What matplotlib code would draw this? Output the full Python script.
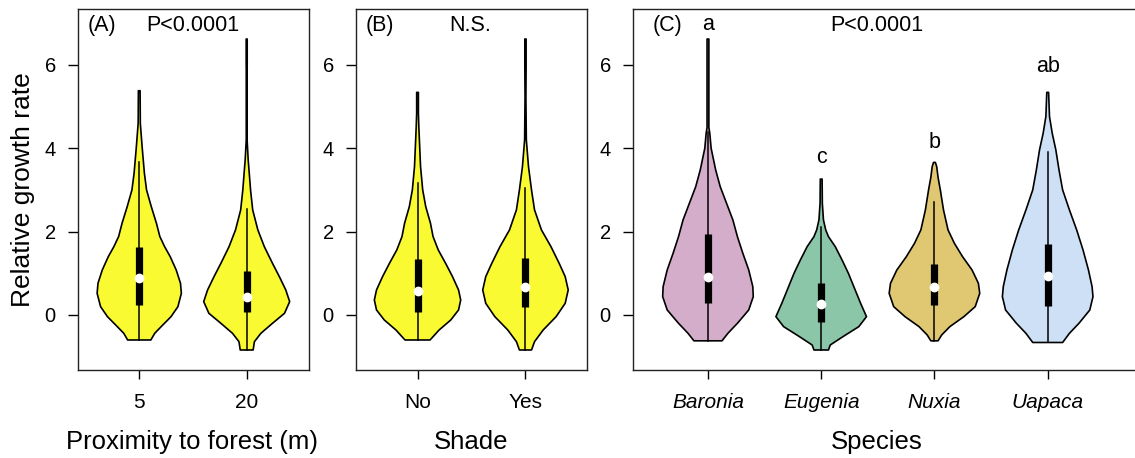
import numpy as np
import matplotlib
matplotlib.use("Agg")
import matplotlib.pyplot as plt

plt.rcParams["font.family"] = ["Liberation Sans", "DejaVu Sans"]

# violin outlines: y level and relative density (max = 1)
a5_y = [-0.6, -0.44, -0.28, -0.04, 0.2, 0.52, 0.76, 1.08, 1.4, 1.64, 1.88, 2.2, 2.6, 3.0, 3.4, 4.0, 4.4, 4.6, 5.38]
a5_d = [0.27, 0.36, 0.51, 0.74, 0.90, 0.98, 0.96, 0.86, 0.72, 0.59, 0.48, 0.40, 0.28, 0.17, 0.12, 0.07, 0.04, 0.025, 0.02]
a20_y = [-0.84, -0.64, -0.44, -0.2, 0.04, 0.32, 0.6, 0.92, 1.24, 1.64, 2.04, 2.52, 3.0, 3.4, 3.72, 4.2, 5.9, 6.0, 6.62]
a20_d = [0.15, 0.18, 0.33, 0.60, 0.88, 1.0, 0.91, 0.76, 0.60, 0.41, 0.26, 0.14, 0.09, 0.06, 0.035, 0.01, 0.01, 0.012, 0.012]

bno_y = [-0.6, -0.36, -0.12, 0.12, 0.36, 0.6, 0.92, 1.24, 1.56, 1.88, 2.2, 2.6, 3.0, 3.56, 4.52, 4.84, 5.34]
bno_d = [0.29, 0.50, 0.77, 0.95, 1.0, 0.95, 0.81, 0.65, 0.48, 0.36, 0.30, 0.19, 0.12, 0.07, 0.03, 0.02, 0.02]
byes_y = [-0.84, -0.64, -0.36, -0.04, 0.28, 0.6, 0.92, 1.24, 1.64, 2.04, 2.52, 3.0, 3.56, 4.2, 5.2, 6.0, 6.62]
byes_d = [0.14, 0.21, 0.41, 0.71, 0.92, 0.99, 0.92, 0.78, 0.59, 0.37, 0.21, 0.14, 0.07, 0.02, 0.01, 0.015, 0.015]

bar_y = [-0.62, -0.44, -0.2, 0.12, 0.44, 0.68, 1.08, 1.48, 1.88, 2.28, 2.68, 3.08, 3.48, 4.0, 4.36, 4.5, 6.62]
bar_d = [0.31, 0.44, 0.65, 0.90, 1.0, 0.99, 0.90, 0.77, 0.65, 0.55, 0.41, 0.27, 0.17, 0.07, 0.04, 0.02, 0.02]
eug_y = [-0.84, -0.72, -0.52, -0.28, -0.04, 0.28, 0.68, 1.0, 1.32, 1.64, 1.88, 2.04, 2.28, 2.68, 3.26]
eug_d = [0.16, 0.20, 0.48, 0.83, 1.0, 0.87, 0.72, 0.60, 0.46, 0.31, 0.16, 0.10, 0.05, 0.025, 0.02]
nux_y = [-0.62, -0.48, -0.28, -0.04, 0.2, 0.52, 0.76, 1.08, 1.4, 1.72, 2.04, 2.52, 3.0, 3.3, 3.56, 3.66]
nux_d = [0.08, 0.16, 0.34, 0.65, 0.90, 1.0, 0.97, 0.83, 0.62, 0.44, 0.30, 0.20, 0.13, 0.08, 0.05, 0.02]
uap_y = [-0.66, -0.44, -0.2, 0.12, 0.44, 0.68, 1.08, 1.56, 2.04, 2.52, 3.0, 3.48, 3.96, 4.36, 4.76, 5.34]
uap_d = [0.33, 0.48, 0.69, 0.93, 1.0, 0.98, 0.90, 0.78, 0.64, 0.48, 0.33, 0.25, 0.18, 0.10, 0.04, 0.02]

# box stats
a_q1, a_med, a_q3, a_wh = [0.24, 0.06], [0.88, 0.44], [1.62, 1.06], [3.66, 2.55]
b_q1, b_med, b_q3, b_wh = [0.08, 0.2], [0.58, 0.66], [1.34, 1.36], [3.16, 3.04]
c_q1 = [0.28, -0.16, 0.24, 0.22]
c_med = [0.92, 0.26, 0.68, 0.94]
c_q3 = [1.94, 0.76, 1.22, 1.7]
c_wh = [4.4, 2.1, 2.7, 3.92]

a_labels = ["5", "20"]
b_labels = ["No", "Yes"]
c_labels = ["Baronia", "Eugenia", "Nuxia", "Uapaca"]
c_letters = ["a", "c", "b", "ab"]
c_letter_y = [6.84, 3.64, 4.0, 5.82]

yellow = "#FAFA32"
c_colors = ["#D3ADC9", "#8CC6A9", "#E0C873", "#CDE0F5"]


def violin(ax, x, ys, ds, q1, med, q3, wh, color):
    ys = np.asarray(ys)
    w = 0.4 * np.asarray(ds)
    px = np.concatenate([x - w, (x + w)[::-1]])
    py = np.concatenate([ys, ys[::-1]])
    ax.fill(px, py, facecolor=color, edgecolor="black", lw=1.2, joinstyle="round", zorder=2)
    ax.plot([x, x], [ys[0], wh], color="black", lw=1.1, zorder=3)
    ax.plot([x, x], [q1, q3], color="black", lw=5.2, solid_capstyle="butt", zorder=4)
    ax.plot(x, med, "o", color="white", ms=6, mec="white", zorder=5)


def style(ax, labels, xlim, italic=False):
    ax.set_xlim(*xlim)
    ax.set_ylim(-1.32, 7.34)
    ax.set_yticks([0, 2, 4, 6])
    ax.set_xticks(range(1, len(labels) + 1))
    ax.set_xticklabels(labels, fontsize=15, style="italic" if italic else "normal")
    ax.tick_params(axis="y", labelsize=14.5, length=7.5, width=1, pad=8.5)
    ax.tick_params(axis="x", length=6.5, width=1, pad=10)
    for s in ax.spines.values():
        s.set_linewidth(1.0)
        s.set_color("#222222")


fig = plt.figure(figsize=(11.35, 4.58), dpi=100)
axA = fig.add_axes([78 / 1135, 88 / 458, 231 / 1135, 361 / 458])
axB = fig.add_axes([356 / 1135, 88 / 458, 231 / 1135, 361 / 458])
axC = fig.add_axes([633 / 1135, 88 / 458, 520 / 1135, 361 / 458])

violin(axA, 1, a5_y, a5_d, a_q1[0], a_med[0], a_q3[0], a_wh[0], yellow)
violin(axA, 2, a20_y, a20_d, a_q1[1], a_med[1], a_q3[1], a_wh[1], yellow)
violin(axB, 1, bno_y, bno_d, b_q1[0], b_med[0], b_q3[0], b_wh[0], yellow)
violin(axB, 2, byes_y, byes_d, b_q1[1], b_med[1], b_q3[1], b_wh[1], yellow)
for i, (ys, ds) in enumerate([(bar_y, bar_d), (eug_y, eug_d), (nux_y, nux_d), (uap_y, uap_d)]):
    violin(axC, i + 1, ys, ds, c_q1[i], c_med[i], c_q3[i], c_wh[i], c_colors[i])

style(axA, a_labels, (0.43, 2.58))
style(axB, b_labels, (0.43, 2.57))
style(axC, c_labels, (0.338, 4.93), italic=True)
axC.spines["right"].set_visible(False)

fs = 15.5
axA.text(0.52, 6.82, "(A)", fontsize=fs, ha="left", va="baseline")
axA.text(1.5, 6.82, "P<0.0001", fontsize=fs, ha="center", va="baseline")
axB.text(0.52, 6.82, "(B)", fontsize=fs, ha="left", va="baseline")
axB.text(1.49, 6.82, "N.S.", fontsize=fs, ha="center", va="baseline")
axC.text(0.51, 6.82, "(C)", fontsize=fs, ha="left", va="baseline")
axC.text(2.49, 6.82, "P<0.0001", fontsize=fs, ha="center", va="baseline")
for i, (lt, ly) in enumerate(zip(c_letters, c_letter_y)):
    axC.text(i + 1, ly, lt, fontsize=fs, ha="center", va="baseline")

axA.text(-0.238, 0.5, "Relative growth rate", fontsize=19, rotation=90,
         ha="center", va="center", transform=axA.transAxes)
axA.text(0.495, -0.2, "Proximity to forest (m)", fontsize=18.5, ha="center", va="center",
         transform=axA.transAxes)
axB.text(0.5, -0.2, "Shade", fontsize=18.5, ha="center", va="center", transform=axB.transAxes)
axC.text(2.49, -0.2, "Species", fontsize=18.5, ha="center", va="center",
         transform=axC.get_xaxis_transform())

fig.savefig("out.png", dpi=100)
